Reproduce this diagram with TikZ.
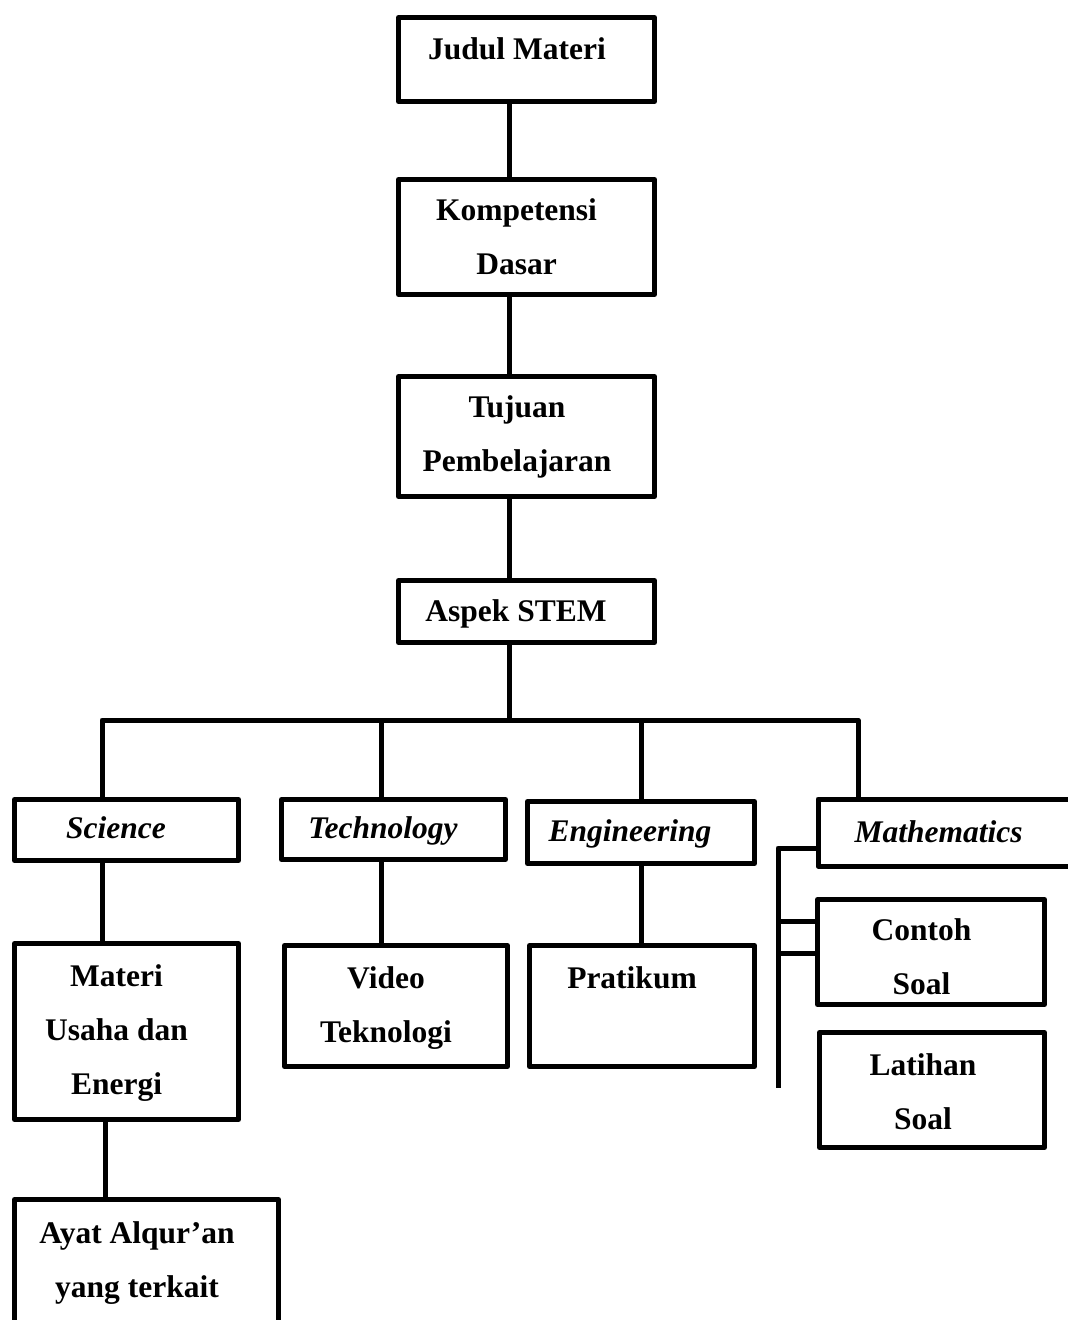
\documentclass[tikz,border=0pt]{standalone}
\usepackage{fontspec}
\setmainfont{Liberation Serif}

\begin{document}
\begin{tikzpicture}[x=1pt,y=-1pt,line width=5pt,line join=round]
    \tikzstyle{box}=[draw=black,rectangle,inner sep=0pt]
    \tikzstyle{wide box}=[box,minimum width=256pt]
    \tikzstyle{boxtext}=[align=center,inner sep=0pt,font=\fontsize{31.5}{54}\selectfont\bfseries]
    \tikzstyle{stemtext}=[boxtext,font=\fontsize{31.5}{54}\selectfont\bfseries\itshape]

    \useasboundingbox (0,0) rectangle (1068,1320);

    % Draw the column of boxes at the top
    \foreach \name / \y / \h in {judul/59.5/84, komp/237/115, tujuan/436.5/120, aspek/611.5/62}
        \node[wide box,minimum height=\h pt] (\name) at (526.5,\y) {};

    \node[boxtext] (judul-t) at (517,49) {Judul Materi};
    \node[boxtext] (komp-t) at (516.5,237) {Kompetensi\\Dasar};
    \node[boxtext] (tujuan-t) at (517,437) {Tujuan\\Pembelajaran};
    \node[boxtext] (aspek-t) at (516,614) {Aspek STEM};

    % Draw the four STEM boxes
    \node[box,minimum width=224pt,minimum height=61pt] (sci) at (126.5,830) {};
    \node[box,minimum width=224pt,minimum height=60pt] (tech) at (393.5,829.5) {};
    \node[box,minimum width=227pt,minimum height=62pt] (eng) at (641,832.5) {};
    % Mathematics runs past the right edge, no right side
    \node[minimum width=260pt,minimum height=62pt,inner sep=0pt] (math) at (950.5,832.5) {};
    \draw (math.north east) -- (math.north west) -- (math.south west) -- (math.south east);

    \node[stemtext] (sci-t) at (116,828) {Science};
    \node[stemtext] (tech-t) at (383,831) {Technology};
    \node[stemtext] (eng-t) at (630,834) {Engineering};
    \node[stemtext] (math-t) at (938.5,832) {Mathematics};

    % Draw the boxes below each aspect
    \node[box,minimum width=224pt,minimum height=176pt] (materi) at (126.5,1031.5) {};
    \node[box,minimum width=264pt,minimum height=135pt] (ayat) at (146.5,1267) {};
    \node[box,minimum width=223pt,minimum height=121pt] (video) at (396,1006) {};
    \node[box,minimum width=225pt,minimum height=121pt] (prak) at (642,1006) {};
    \node[box,minimum width=227pt,minimum height=105pt] (contoh) at (931,952) {};
    \node[box,minimum width=225pt,minimum height=115pt] (latihan) at (932,1090) {};

    \node[boxtext] (materi-t) at (116.5,1033) {Materi\\Usaha dan\\Energi};
    \node[boxtext] (ayat-t) at (137,1263) {Ayat Alqur’an\\yang terkait};
    \node[boxtext] (video-t) at (386,1008) {Video\\Teknologi};
    \node[boxtext] (prak-t) at (632,978) {Pratikum};
    \node[boxtext] (contoh-t) at (921.5,957) {Contoh\\Soal};
    \node[boxtext] (latihan-t) at (923,1092) {Latihan\\Soal};

    % Connect the top column
    \coordinate (spine) at (509,720);
    \foreach \source / \dest in {judul/komp, komp/tujuan, tujuan/aspek}
        \draw (spine |- \source.south) -- (spine |- \dest.north);
    \draw (spine |- aspek.south) -- (spine);

    % The bar to the four aspects
    \coordinate (dS) at (102,720);
    \coordinate (dT) at (381,720);
    \coordinate (dE) at (641,720);
    \coordinate (dM) at (858,720);
    \draw (dS |- sci.north) -- (dS) -- (dM) -- (dM |- math.north);
    \foreach \c / \dest in {dT/tech, dE/eng}
        \draw (\c) -- (\c |- \dest.north);

    % Connect each aspect with its box
    \draw (dS |- sci.south) -- (dS |- materi.north);
    \coordinate (dA) at (105,1160);
    \draw (dA |- materi.south) -- (dA |- ayat.north);
    \draw (dT |- tech.south) -- (dT |- video.north);
    \draw (dE |- eng.south) -- (dE |- prak.north);

    % Bracket on the left of Mathematics
    \coordinate (bk) at (778,848);
    \coordinate (bk-end) at (778,1088);
    \coordinate (st1) at (776,921);
    \coordinate (st2) at (778,953);
    \draw (math.west |- bk) -- (bk) -- (bk-end);
    \foreach \s in {st1,st2}
        \draw (\s) -- (contoh.west |- \s);
\end{tikzpicture}
\end{document}
